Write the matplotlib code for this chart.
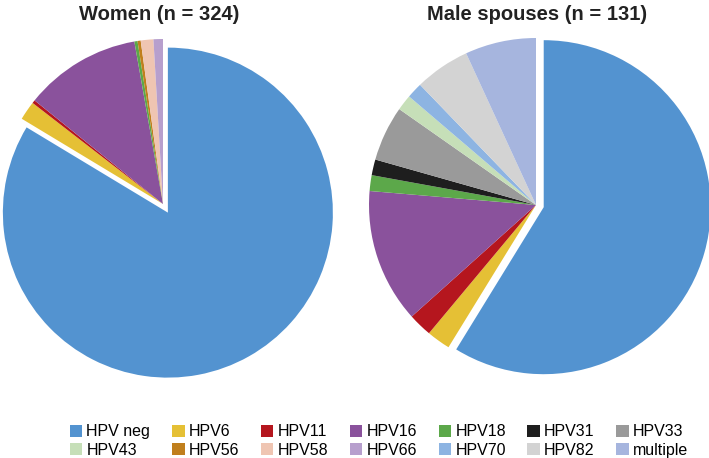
import matplotlib.pyplot as plt
from matplotlib.patches import Patch

plt.rcParams['font.family'] = ['Liberation Sans', 'DejaVu Sans']

# legend order (row by row, as in the picture)
types = ["HPV neg", "HPV6", "HPV11", "HPV16", "HPV18", "HPV31", "HPV33",
         "HPV43", "HPV56", "HPV58", "HPV66", "HPV70", "HPV82", "multiple"]
colors = ["#5393D0", "#E5C035", "#B5161E", "#8A529C", "#5CA84A", "#1E1E1E", "#9A9A9A",
          "#C6DFB8", "#C07F1D", "#EFC5B2", "#B79FCD", "#8DB4E2", "#D3D3D3", "#A6B5DE"]
color_of = dict(zip(types, colors))

# women, n = 324 (counts)
women_types = ["HPV neg", "HPV6", "HPV11", "HPV16", "HPV18", "HPV56", "HPV58", "HPV66"]
women_counts = [271, 6, 1, 37, 1, 1, 4, 3]

# male spouses, n = 131
men_types = ["HPV neg", "HPV6", "HPV11", "HPV16", "HPV18", "HPV31", "HPV33",
             "HPV43", "HPV70", "HPV82", "multiple"]
men_counts = [77, 3, 3, 17, 2, 2, 7, 2, 2, 7, 9]

W, H = 709, 458
fig = plt.figure(figsize=(W / 100, H / 100), dpi=100)


def pie_axes(cx, cy, r):
    # cx, cy in pixels from top-left, r = pie radius in pixels
    half = 1.1 * r
    ax = fig.add_axes([(cx - half) / W, (H - cy - half) / H, 2 * half / W, 2 * half / H])
    return ax


def draw_pie(ax, kinds, counts, explode_neg, title, tx):
    explode = [explode_neg if k == "HPV neg" else 0 for k in kinds]
    wedges, _ = ax.pie(counts, colors=[color_of[k] for k in kinds], startangle=90,
                       counterclock=False, explode=explode,
                       wedgeprops=dict(linewidth=0))
    for w in wedges:
        w.set_clip_on(False)
    ax.set_xlim(-1.1, 1.1)
    ax.set_ylim(-1.1, 1.1)
    ax.set_aspect("equal")
    ax.axis("off")
    fig.text(tx / W, 1 - 14 / H, title, ha="center", va="center",
             fontsize=14.5, fontweight="bold", color="#222222")


ax1 = pie_axes(163, 204, 165)
draw_pie(ax1, women_types, women_counts, 0.06, "Women (n = 324)", 159)

ax2 = pie_axes(536, 205, 167)
draw_pie(ax2, men_types, men_counts, 0.048, "Male spouses (n = 131)", 537)

# legend: matplotlib fills column by column, so interleave the two rows
order = []
for i in range(7):
    order.append(i)
    order.append(i + 7)
handles = [Patch(facecolor=colors[i], edgecolor="none", label=types[i]) for i in order]
fig.legend(handles=handles, ncol=7, loc="center", bbox_to_anchor=(379 / W, 1 - 441 / H),
           frameon=False, fontsize=11.5, handlelength=0.8, handleheight=0.8,
           handletextpad=0.25, columnspacing=1.35, labelspacing=0.2, borderpad=0)

fig.savefig("out.png", dpi=100)
